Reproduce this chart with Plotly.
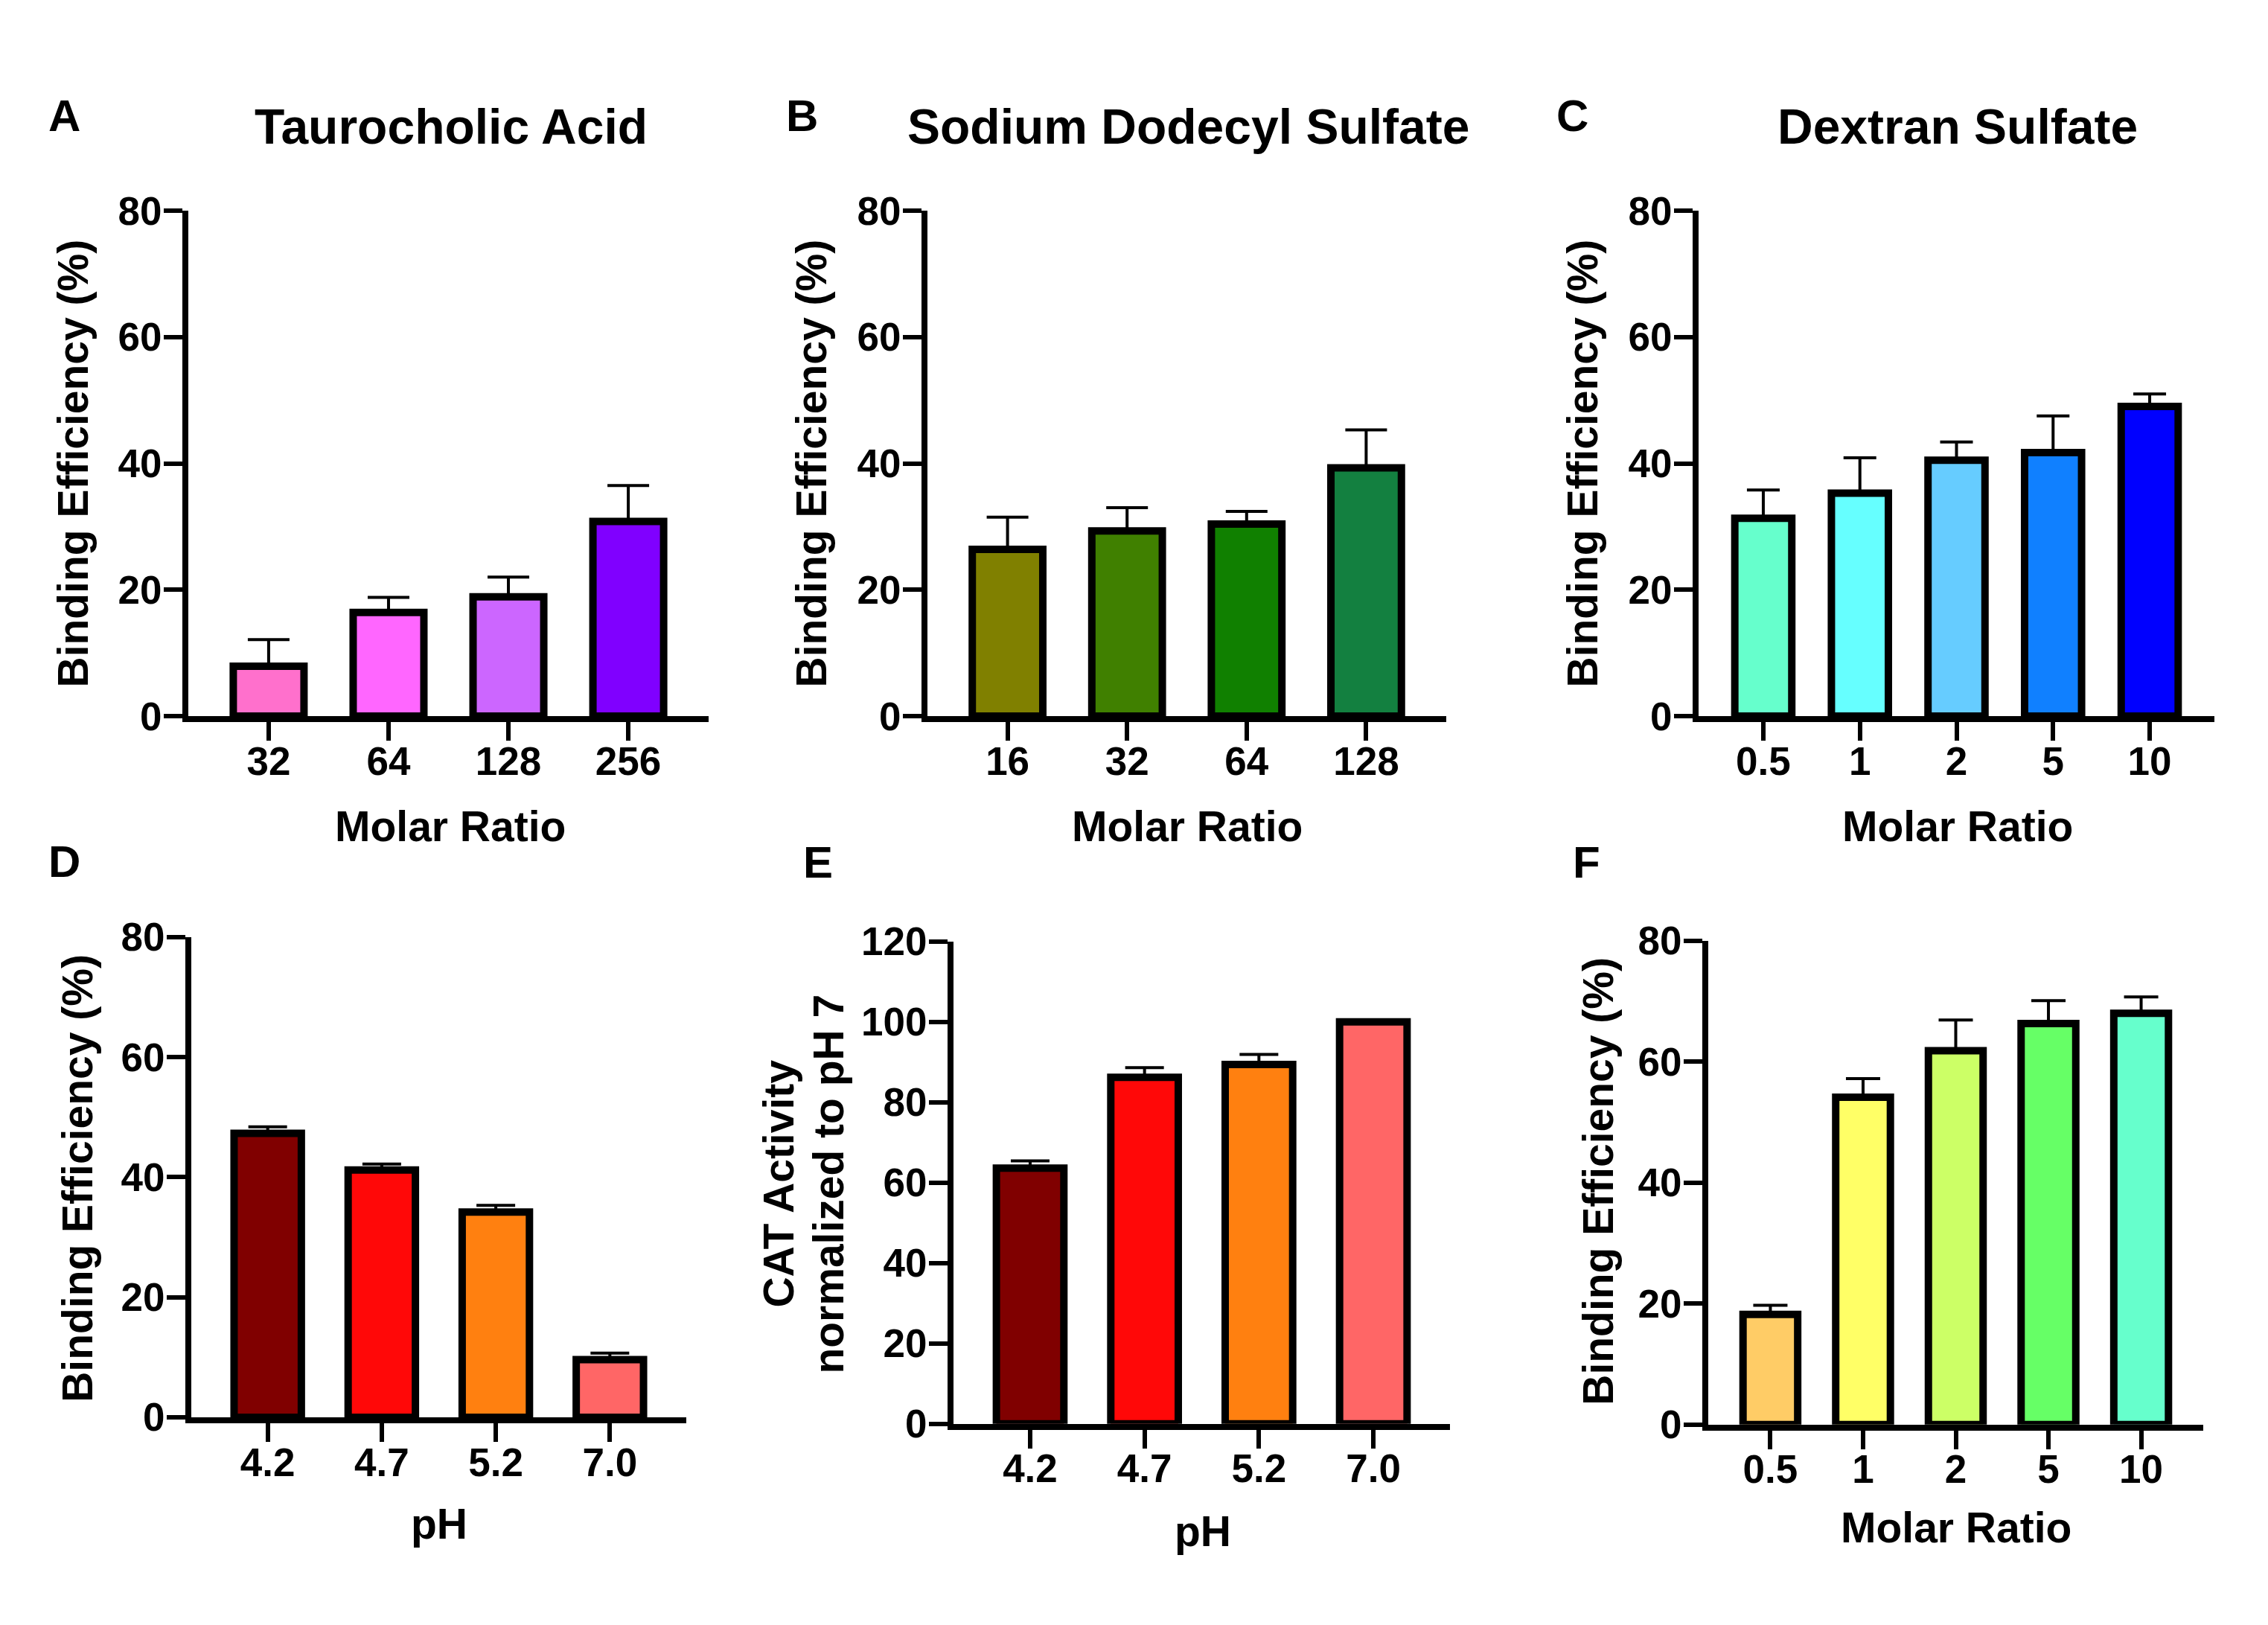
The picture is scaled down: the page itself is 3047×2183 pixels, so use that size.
import plotly.graph_objects as go

W, H = 3047, 2183
FONT = "Liberation Sans, Arial, Helvetica, sans-serif"

# Panel A - Taurocholic Acid
ta_ratio = ["32", "64", "128", "256"]
ta_binding = [7.9, 16.4, 18.9, 30.8]
ta_err = [4.2, 2.4, 3.1, 5.7]
ta_colors = ["#FF70CC", "#FF66FF", "#CC66FF", "#8000FF"]

# Panel B - Sodium Dodecyl Sulfate
sds_ratio = ["16", "32", "64", "128"]
sds_binding = [26.4, 29.3, 30.4, 39.3]
sds_err = [5.1, 3.7, 2.0, 6.0]
sds_colors = ["#808000", "#408000", "#108000", "#138040"]

# Panel C - Dextran Sulfate
ds_ratio = ["0.5", "1", "2", "5", "10"]
ds_binding = [31.3, 35.3, 40.5, 41.7, 49.0]
ds_err = [4.5, 5.6, 2.9, 5.8, 2.0]
ds_colors = ["#66FFCC", "#66FFFF", "#66CCFF", "#1080FF", "#0000FF"]

# Panel D - binding vs pH
ph_labels = ["4.2", "4.7", "5.2", "7.0"]
ph_binding = [47.3, 41.2, 34.2, 9.6]
ph_binding_err = [1.1, 1.0, 1.1, 1.1]
ph_colors = ["#800000", "#FF0808", "#FF8010", "#FF6666"]

# Panel E - CAT activity vs pH
cat_activity = [63.6, 86.2, 89.4, 100.0]
cat_err = [1.8, 2.4, 2.5, 0.0]

# Panel F - binding vs molar ratio
f_ratio = ["0.5", "1", "2", "5", "10"]
f_binding = [18.2, 54.1, 61.8, 66.3, 68.0]
f_err = [1.5, 3.1, 5.1, 3.8, 2.7]
f_colors = ["#FFCC66", "#FFFF66", "#CCFF66", "#66FF66", "#66FFCC"]

# pixel boxes of each plot area: left, right, top, bottom
panels = [
    dict(cats=ta_ratio, vals=ta_binding, err=ta_err, colors=ta_colors,
         box=(253, 952, 261, 959), ymax=80, cap=28),
    dict(cats=sds_ratio, vals=sds_binding, err=sds_err, colors=sds_colors,
         box=(1246, 1943, 261, 959), ymax=80, cap=28),
    dict(cats=ds_ratio, vals=ds_binding, err=ds_err, colors=ds_colors,
         box=(2282, 2975, 261, 959), ymax=80, cap=22),
    dict(cats=ph_labels, vals=ph_binding, err=ph_binding_err, colors=ph_colors,
         box=(257, 922, 1264, 1927), ymax=80, cap=26),
    dict(cats=ph_labels, vals=cat_activity, err=cat_err, colors=ph_colors,
         box=(1281, 1948, 1270, 1936), ymax=120, cap=26),
    dict(cats=f_ratio, vals=f_binding, err=f_err, colors=f_colors,
         box=(2295, 2960, 1269, 1937), ymax=80, cap=23),
]

fig = go.Figure()
layout = {}

for i, p in enumerate(panels):
    n = i + 1
    xa = "x" if n == 1 else f"x{n}"
    ya = "y" if n == 1 else f"y{n}"
    left, right, top, bottom = p["box"]

    fig.add_trace(go.Bar(
        x=p["cats"], y=p["vals"],
        xaxis=xa, yaxis=ya,
        width=0.59,
        marker=dict(color=p["colors"], line=dict(color="black", width=10)),
        error_y=dict(type="data", symmetric=False, array=p["err"],
                     arrayminus=[0] * len(p["err"]),
                     color="black", thickness=4, width=p["cap"]),
        showlegend=False,
    ))

    axis_common = dict(
        showline=True, linecolor="black", linewidth=8,
        ticks="outside", tickcolor="black", tickwidth=6, ticklen=25,
        showgrid=False, zeroline=False,
        tickfont=dict(family=FONT, size=53, color="black", weight="bold"),
    )
    layout["xaxis" if n == 1 else f"xaxis{n}"] = dict(
        axis_common, type="category",
        domain=[left / W, right / W],
        range=[-0.67, len(p["cats"]) - 0.33],
        ticklabelstandoff=-18,
        anchor=ya,
    )
    layout["yaxis" if n == 1 else f"yaxis{n}"] = dict(
        axis_common,
        domain=[1 - bottom / H, 1 - top / H],
        range=[0, p["ymax"]], dtick=20,
        ticklabelstandoff=-8,
        anchor=xa,
    )


def label(text, x, y, size, angle=0):
    return dict(text=text, x=x / W, y=1 - y / H, xref="paper", yref="paper",
                xanchor="center", yanchor="middle", showarrow=False,
                textangle=angle,
                font=dict(family=FONT, size=size, color="black", weight="bold"))


annotations = [
    # panel letters
    label("A", 86, 130, 60), label("B", 1077, 130, 60), label("C", 2112, 130, 60),
    label("D", 86, 1160, 60), label("E", 1099, 1161, 60), label("F", 2131, 1161, 60),
    # titles
    label("Taurocholic Acid", 606, 145, 66),
    label("Sodium Dodecyl Sulfate", 1596, 145, 66),
    label("Dextran Sulfate", 2630, 145, 66),
    # y titles
    label("Binding Efficiency (%)", 98, 610, 57, -90),
    label("Binding Efficiency (%)", 1090, 610, 57, -90),
    label("Binding Efficiency (%)", 2126, 610, 57, -90),
    label("Binding Efficiency (%)", 104, 1597, 57, -90),
    label("CAT Activity", 1046, 1605, 57, -90),
    label("normalized to pH 7", 1113, 1605, 57, -90),
    label("Binding Efficiency (%)", 2147, 1601, 57, -90),
    # x titles
    label("Molar Ratio", 605, 1111, 57),
    label("Molar Ratio", 1595, 1111, 57),
    label("Molar Ratio", 2630, 1111, 57),
    label("pH", 590, 2074, 57),
    label("pH", 1616, 2084, 57),
    label("Molar Ratio", 2628, 2079, 57),
]

fig.update_layout(
    width=W, height=H,
    margin=dict(l=0, r=0, t=0, b=0),
    paper_bgcolor="white", plot_bgcolor="white",
    font=dict(family=FONT, color="black"),
    annotations=annotations,
)
fig.update_layout(**layout)

fig.write_html("out.html", config={"displayModeBar": False},
               post_script="document.body.style.margin='0';")
